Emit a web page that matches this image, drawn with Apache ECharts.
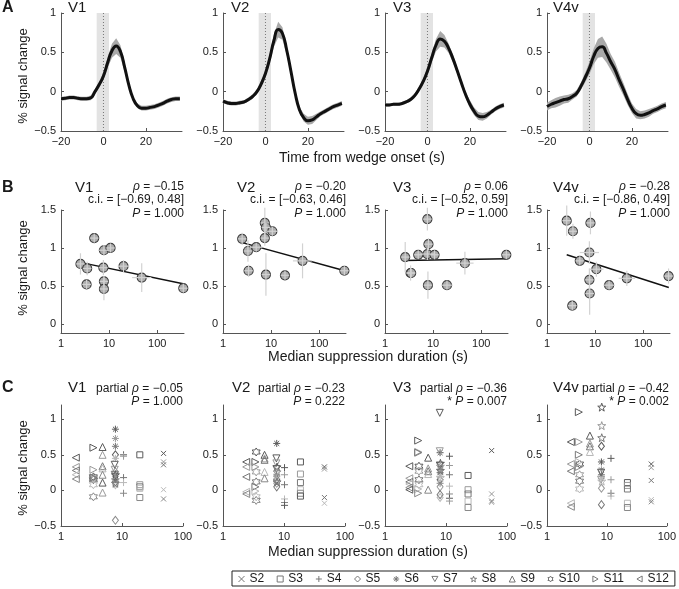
<!DOCTYPE html>
<html>
<head>
<meta charset="utf-8">
<script src="https://cdn.jsdelivr.net/npm/echarts@6/dist/echarts.min.js"></script>
<style>
  html, body { margin: 0; padding: 0; background: #fff; }
  #chart { width: 679px; height: 589px; }
</style>
</head>
<body>
<div id="chart"></div>
<script>
// ---------- data ----------
const areas = ['V1', 'V2', 'V3', 'V4v'];

// A: event-related time courses (s, % signal change)
const timeS = [-20, -18, -16, -14, -12, -10, -8, -6, -4, -2, 0, 2, 4, 6, 8, 10, 12, 14, 16, 18, 20, 22, 24, 26, 28, 30, 32, 34, 36];
const meanV1 = [-0.09, -0.085, -0.075, -0.075, -0.085, -0.09, -0.09, -0.08, 0.0, 0.09, 0.2, 0.37, 0.52, 0.58, 0.51, 0.31, 0.08, -0.09, -0.18, -0.21, -0.21, -0.2, -0.19, -0.17, -0.15, -0.12, -0.1, -0.09, -0.09];
const semV1 = [0.025, 0.025, 0.025, 0.025, 0.025, 0.025, 0.025, 0.03, 0.03, 0.04, 0.05, 0.07, 0.09, 0.1, 0.08, 0.06, 0.04, 0.03, 0.03, 0.03, 0.03, 0.03, 0.03, 0.03, 0.03, 0.03, 0.03, 0.03, 0.03];
const meanV2 = [-0.12, -0.14, -0.15, -0.15, -0.14, -0.13, -0.1, -0.06, 0.0, 0.1, 0.23, 0.42, 0.65, 0.79, 0.74, 0.53, 0.26, -0.02, -0.23, -0.33, -0.37, -0.36, -0.32, -0.28, -0.25, -0.22, -0.19, -0.17, -0.15];
const semV2 = [0.025, 0.025, 0.025, 0.025, 0.025, 0.025, 0.025, 0.03, 0.03, 0.04, 0.05, 0.06, 0.08, 0.1, 0.08, 0.06, 0.05, 0.04, 0.04, 0.05, 0.05, 0.05, 0.04, 0.03, 0.03, 0.03, 0.03, 0.03, 0.03];
const meanV3 = [-0.17, -0.17, -0.16, -0.16, -0.15, -0.13, -0.1, -0.05, 0.03, 0.13, 0.26, 0.43, 0.59, 0.67, 0.64, 0.55, 0.42, 0.27, 0.11, -0.04, -0.16, -0.25, -0.31, -0.32, -0.3, -0.26, -0.22, -0.19, -0.17];
const semV3 = [0.02, 0.02, 0.02, 0.02, 0.02, 0.02, 0.025, 0.03, 0.03, 0.04, 0.05, 0.06, 0.08, 0.1, 0.08, 0.06, 0.05, 0.04, 0.04, 0.04, 0.05, 0.05, 0.05, 0.05, 0.04, 0.03, 0.03, 0.03, 0.03];
const meanV4 = [-0.19, -0.16, -0.14, -0.12, -0.1, -0.09, -0.06, -0.02, 0.07, 0.18, 0.3, 0.45, 0.55, 0.57, 0.49, 0.38, 0.28, 0.15, 0.03, -0.1, -0.21, -0.28, -0.3, -0.29, -0.27, -0.24, -0.22, -0.19, -0.17];
const semV4 = [0.05, 0.05, 0.06, 0.06, 0.05, 0.05, 0.04, 0.04, 0.05, 0.06, 0.08, 0.1, 0.12, 0.13, 0.12, 0.1, 0.1, 0.09, 0.08, 0.07, 0.06, 0.06, 0.05, 0.05, 0.05, 0.04, 0.04, 0.04, 0.04];
const wedgeOnset = 0;
const wedgeBand = [-3.2, 2.6];

// B: per-subject points [median duration, % signal change, y error, x error (log10)]
const bV1 = [[2.54, 0.79, 0.14, 0.09], [3.5, 0.73, 0.09, 0.09], [3.4, 0.52, 0.06, 0.09], [4.9, 1.13, 0.06, 0.09],
  [7.8, 0.97, 0.07, 0.12], [10.7, 1.0, 0.06, 0.09], [7.6, 0.74, 0.1, 0.09], [7.8, 0.56, 0.07, 0.09],
  [7.8, 0.46, 0.15, 0.09], [19.9, 0.76, 0.08, 0.12], [47.6, 0.61, 0.19, 0.2], [348, 0.47, 0.06, 0.09]];
const bV2 = [[2.5, 1.12, 0.08, 0.09], [3.3, 0.96, 0.14, 0.09], [3.4, 0.7, 0.08, 0.09], [4.9, 1.01, 0.06, 0.13],
  [7.4, 1.33, 0.2, 0.09], [7.8, 1.27, 0.06, 0.09], [7.4, 1.13, 0.1, 0.09], [7.8, 0.65, 0.28, 0.09],
  [10.6, 1.22, 0.06, 0.12], [19.4, 0.64, 0.06, 0.09], [45, 0.83, 0.23, 0.2], [333, 0.7, 0.06, 0.09]];
const bV3 = [[2.63, 0.88, 0.2, 0.09], [3.4, 0.67, 0.1, 0.09], [3.5, 0.67, 0.06, 0.09], [4.9, 0.91, 0.06, 0.09],
  [7.6, 1.38, 0.15, 0.09], [8.0, 1.05, 0.08, 0.09], [7.6, 0.92, 0.08, 0.15], [7.8, 0.51, 0.18, 0.09],
  [10.7, 0.91, 0.06, 0.09], [19.4, 0.51, 0.06, 0.12], [45.8, 0.8, 0.15, 0.18], [332, 0.91, 0.06, 0.09]];
const bV4 = [[2.57, 1.36, 0.2, 0.09], [3.46, 1.22, 0.1, 0.09], [3.35, 0.24, 0.06, 0.09], [4.8, 0.83, 0.06, 0.09],
  [8.0, 1.33, 0.15, 0.09], [7.6, 0.94, 0.15, 0.2], [7.6, 0.58, 0.15, 0.09], [7.7, 0.4, 0.28, 0.09],
  [10.6, 0.72, 0.1, 0.15], [19.5, 0.51, 0.06, 0.12], [45.6, 0.6, 0.1, 0.17], [336, 0.63, 0.1, 0.09]];
// regression line end points
const fitV1 = [[2.5, 0.81], [345, 0.53]];
const fitV2 = [[2.5, 1.07], [340, 0.7]];
const fitV3 = [[2.5, 0.835], [340, 0.857]];
const fitV4 = [[2.57, 0.91], [340, 0.48]];
const statRho = ['\u22120.15', '\u22120.20', '0.06', '\u22120.28'];
const statCI = ['[\u22120.69, 0.48]', '[\u22120.63, 0.46]', '[\u22120.52, 0.59]', '[\u22120.86, 0.49]'];
const statP = ['1.000', '1.000', '1.000', '1.000'];

// C: single runs per subject
const subjects = ['S2', 'S3', 'S4', 'S5', 'S6', 'S7', 'S8', 'S9', 'S10', 'S11', 'S12'];
const durV1 = [48, 19.6, 10.6, 7.8, 7.8, 7.6, 7.8, 4.8, 3.4, 3.4, 1.75];
const durV2 = [46, 18.6, 10.2, 7.6, 7.6, 7.5, 7.7, 4.8, 3.5, 3.4, 2.4];
const durV3 = [56, 23, 11.4, 8.0, 8.0, 7.9, 8.1, 5.1, 3.6, 3.5, 2.5];
const durV4 = [55, 22, 11.7, 8.1, 8.1, 8.0, 8.2, 5.2, 3.5, 3.4, 2.5];
const cV1 = [
  [0.52, 0.4, 0.36, 0.01, -0.12],
  [0.5, 0.08, 0.05, 0.03, -0.1],
  [0.5, 0.48, 0.18, 0.11, -0.04],
  [0.5, 0.26, 0.12, 0.08, -0.42],
  [0.86, 0.73, 0.62, 0.45, 0.2, 0.15],
  [0.36, 0.29, 0.22],
  [0.22, 0.15, 0.1],
  [0.61, 0.5, 0.34, 0.31, 0.22, 0.11, -0.03],
  [0.19, 0.17, 0.15, 0.08, -0.09],
  [0.6, 0.29, 0.18],
  [0.46, 0.33, 0.28, 0.22, 0.16]
];
const cV2 = [
  [0.33, 0.3, -0.1, -0.18],
  [0.4, 0.23, 0.11, 0.01, -0.04, -0.08],
  [0.32, 0.22, 0.08, -0.12, -0.17, -0.21],
  [0.15, 0.1, 0.05],
  [0.66, 0.22, 0.2, 0.17],
  [0.45, 0.38, 0.3],
  [0.33, 0.26, 0.12],
  [0.5, 0.45, 0.43, 0.26, 0.17],
  [0.54, 0.26, 0.12, -0.09, -0.14],
  [0.4, 0.33, 0.05, -0.01],
  [0.4, 0.33, 0.19, -0.02, -0.05]
];
const cV3 = [
  [0.56, -0.05, -0.15, -0.17],
  [0.21, 0.01, -0.05, -0.15, -0.24],
  [0.48, 0.35, 0.22, 0.06, -0.05, -0.11, -0.15],
  [0.15, 0.05, -0.06, -0.1],
  [0.53, 0.3, 0.25, 0.2, 0.1],
  [1.09, 0.55, 0.35],
  [0.38, 0.34, 0.28, 0.18],
  [0.46, 0.31, 0.27, 0.23, 0.01],
  [0.34, 0.27, 0.15, 0.08],
  [0.7, 0.54, 0.53, 0.02, -0.04],
  [0.34, 0.17, 0.12, 0.09, 0.04, 0.01]
];
const cV4 = [
  [0.37, 0.32, 0.14, -0.13, -0.16],
  [0.11, 0.07, 0.02, -0.18, -0.24],
  [0.45, 0.15, -0.04, -0.08],
  [0.62, 0.03, -0.2],
  [0.4, 0.29, 0.22, 0.17],
  [0.25, 0.15],
  [1.17, 0.91, 0.74, 0.13],
  [0.77, 0.66, 0.62, 0.54],
  [0.37, 0.22, 0.13, 0.02],
  [1.1, 0.68, 0.5, 0.4, 0.33],
  [0.68, 0.37, 0.27, -0.18, -0.23]
];
const partialRho = ['\u22120.05', '\u22120.23', '\u22120.36', '\u22120.42'];
const partialP = ['1.000', '0.222', '0.007', '0.002'];
const partialSig = [false, false, true, true];

// ---------- layout / style ----------
const FONT = '"Liberation Sans", Arial, Helvetica, sans-serif';
const INK = '#1a1a1a';
const AXIS = '#555';
const colLeft = [61, 223, 385, 547];
const rowTop = [13, 210, 405];
const rowHeight = [118, 123, 121];
const rowWidth = [121, 123, 122];
const yRangeA = [-0.5, 1];

const means = [meanV1, meanV2, meanV3, meanV4];
const sems = [semV1, semV2, semV3, semV4];
const bData = [bV1, bV2, bV3, bV4];
const fits = [fitV1, fitV2, fitV3, fitV4];
const cData = [cV1, cV2, cV3, cV4];
const cDur = [durV1, durV2, durV3, durV4];

const symX = 'path://M0,0L10,10M10,0L0,10';
const symPlus = 'path://M5,0L5,10M0,5L10,5';
const symAst = 'path://M5,0L5,10M0,5L10,5M1.5,1.5L8.5,8.5M8.5,1.5L1.5,8.5';
const symStar = 'path://M5,0L6.18,3.38L9.76,3.45L6.9,5.62L7.94,9.05L5,7L2.06,9.05L3.1,5.62L0.24,3.45L3.82,3.38Z';
const symHex = 'path://M5,0L6.44,2.5L9.33,2.5L7.89,5L9.33,7.5L6.44,7.5L5,10L3.56,7.5L0.67,7.5L2.11,5L0.67,2.5L3.56,2.5Z';
const symDown = 'path://M0,0L10,0L5,8.66Z';
const symRight = 'path://M0,0L8.66,5L0,10Z';
const symLeft = 'path://M8.66,0L0,5L8.66,10Z';
const subjSymbol = [symX, 'rect', symPlus, 'diamond', symAst, symDown, symStar, 'triangle', symHex, symRight, symLeft];
const subjSize = [5, 6, 7, [6, 8], 7, 7, 8, 7, 8, 7, 7];
const shades = ['#5a5a5a', '#9a9a9a', '#777777', '#b8b8b8', '#888888'];

const fmt = v => String(v).replace('-', '\u2212');

function axisStyle(values) {
  return {
    axisLine: { show: true, onZero: false, lineStyle: { color: AXIS, width: 1 } },
    axisTick: { show: true, inside: true, length: 3, customValues: values, lineStyle: { color: AXIS } },
    axisLabel: { customValues: values, color: INK, fontSize: 11, fontFamily: FONT, margin: 5, formatter: fmt },
    splitLine: { show: false }
  };
}

const grid = [], xAxis = [], yAxis = [], series = [], graphic = [];

function addPanel(row, col, xOpt, yOpt) {
  const idx = grid.length;
  grid.push({ left: colLeft[col], top: rowTop[row], width: rowWidth[row], height: rowHeight[row] });
  xAxis.push(Object.assign({ gridIndex: idx }, xOpt));
  yAxis.push(Object.assign({ gridIndex: idx }, yOpt));
  return idx;
}

function txt(x, y, text, opt) {
  graphic.push({
    type: 'text', x: x, y: y, silent: true, rotation: (opt && opt.rotation) || 0,
    style: Object.assign({
      text: text, fill: INK, fontSize: 12, fontFamily: FONT, align: 'left', verticalAlign: 'middle',
      rich: { i: { fontStyle: 'italic', fontSize: 12, fontFamily: FONT, fill: INK } }
    }, opt && opt.style)
  });
}

// light wedge-duration strip and dotted onset line
function renderWedge(params, api) {
  const a = api.coord([api.value(0), yRangeA[1]]);
  const b = api.coord([api.value(1), yRangeA[0]]);
  const on = api.coord([api.value(2), yRangeA[1]]);
  const onB = api.coord([api.value(2), yRangeA[0]]);
  return {
    type: 'group',
    children: [
      { type: 'rect', shape: { x: a[0], y: a[1], width: b[0] - a[0], height: b[1] - a[1] }, style: { fill: '#e3e3e3' } },
      { type: 'line', shape: { x1: on[0], y1: on[1], x2: onB[0], y2: onB[1] }, style: { stroke: '#777', lineWidth: 1, lineDash: [1, 2] } }
    ]
  };
}

// shaded s.e.m. band drawn as one polygon through all rows
function makeBandRenderer(rows) {
  return function (params, api) {
    if (params.dataIndex !== 0) return null;
    const up = rows.map(r => api.coord([r[0], r[2]]));
    const lo = rows.map(r => api.coord([r[0], r[1]])).reverse();
    return { type: 'polygon', shape: { points: up.concat(lo) }, style: { fill: '#a9a9a9' } };
  };
}

function renderErr(params, api) {
  const x = api.value(0), y = api.value(1), ey = api.value(2), ex = api.value(3);
  const top = api.coord([x, y + ey]);
  const bot = api.coord([x, y - ey]);
  const lft = api.coord([x / Math.pow(10, ex), y]);
  const rgt = api.coord([x * Math.pow(10, ex), y]);
  const st = { stroke: '#d2d2d2', lineWidth: 1.2 };
  return {
    type: 'group',
    children: [
      { type: 'line', shape: { x1: top[0], y1: top[1], x2: bot[0], y2: bot[1] }, style: st },
      { type: 'line', shape: { x1: lft[0], y1: lft[1], x2: rgt[0], y2: rgt[1] }, style: st }
    ]
  };
}

// ---------- row A ----------
areas.forEach((name, c) => {
  const g = addPanel(0, c,
    Object.assign({ type: 'value', min: -20, max: 37 }, axisStyle([-20, 0, 20])),
    Object.assign({ type: 'value', min: yRangeA[0], max: yRangeA[1] }, axisStyle([-0.5, 0, 0.5, 1])));
  const m = means[c], s = sems[c];
  const rows = timeS.map((t, k) => [t, m[k] - s[k], m[k] + s[k]]);
  series.push({
    type: 'custom', xAxisIndex: g, yAxisIndex: g, silent: true, z: 1,
    renderItem: renderWedge, encode: { x: [0, 1, 2] }, data: [[wedgeBand[0], wedgeBand[1], wedgeOnset]]
  });
  series.push({
    type: 'custom', xAxisIndex: g, yAxisIndex: g, silent: true, z: 2,
    renderItem: makeBandRenderer(rows), encode: { x: 0, y: [1, 2] }, data: rows
  });
  series.push({
    type: 'line', xAxisIndex: g, yAxisIndex: g, smooth: true, symbol: 'none', silent: true, z: 3,
    lineStyle: { color: '#111', width: 3 },
    data: timeS.map((t, k) => [t, m[k]])
  });
});

// ---------- row B ----------
areas.forEach((name, c) => {
  const g = addPanel(1, c,
    Object.assign({ type: 'log', logBase: 10, min: 1, max: 360 }, axisStyle([1, 10, 100])),
    Object.assign({ type: 'value', min: -0.12, max: 1.5 }, axisStyle([0, 0.5, 1, 1.5])));
  series.push({
    type: 'line', xAxisIndex: g, yAxisIndex: g, symbol: 'none', silent: true, z: 2,
    lineStyle: { color: '#111', width: 1.5 }, data: fits[c]
  });
  series.push({
    type: 'scatter', xAxisIndex: g, yAxisIndex: g, symbol: 'circle', symbolSize: 9, silent: true, z: 3,
    itemStyle: { color: '#adadad', borderColor: '#3c3c3c', borderWidth: 1.2, opacity: 1 },
    data: bData[c].map(r => [r[0], r[1]])
  });
  series.push({
    type: 'custom', xAxisIndex: g, yAxisIndex: g, silent: true, z: 4,
    renderItem: renderErr, encode: { x: 0, y: 1 }, data: bData[c]
  });
});

// ---------- row C ----------
areas.forEach((name, c) => {
  const g = addPanel(2, c,
    Object.assign({ type: 'log', logBase: 10, min: 1, max: 100 }, axisStyle([1, 10, 100])),
    Object.assign({ type: 'value', min: -0.5, max: 1.2 }, axisStyle([-0.5, 0, 0.5, 1])));
  subjects.forEach((sName, s) => {
    series.push({
      type: 'scatter', name: sName, xAxisIndex: g, yAxisIndex: g, silent: true, z: 3,
      symbol: subjSymbol[s], symbolSize: subjSize[s],
      itemStyle: { color: 'transparent', borderColor: '#888', borderWidth: 1, opacity: 1 },
      data: cData[c][s].map((v, k) => ({ value: [cDur[c][s], v], itemStyle: { borderColor: shades[k % shades.length] } }))
    });
  });
});

// ---------- texts ----------
txt(2, 8, 'A', { style: { fontSize: 16, fontWeight: 'bold' } });
txt(2, 188, 'B', { style: { fontSize: 16, fontWeight: 'bold' } });
txt(2, 388, 'C', { style: { fontSize: 16, fontWeight: 'bold' } });

const titleA = [68, 231, 393, 553];
const titleB = [75, 237, 393, 553];
const titleC = [68, 232, 393, 553];
areas.forEach((name, c) => {
  txt(titleA[c], 8, name, { style: { fontSize: 15 } });
  txt(titleB[c], 188, name, { style: { fontSize: 15 } });
  txt(titleC[c], 388, name, { style: { fontSize: 15 } });
  const rb = colLeft[c] + 123;
  txt(rb, 187, '{i|\u03c1} = ' + statRho[c], { style: { align: 'right' } });
  txt(rb, 200, 'c.i. = ' + statCI[c], { style: { align: 'right' } });
  txt(rb, 214, '{i|P} = ' + statP[c], { style: { align: 'right' } });
  const rc = colLeft[c] + 122;
  txt(rc, 389, 'partial {i|\u03c1} = ' + partialRho[c], { style: { align: 'right' } });
  txt(rc, 402, (partialSig[c] ? '* ' : '') + '{i|P} = ' + partialP[c], { style: { align: 'right' } });
});

[76, 268, 468].forEach(y => {
  txt(23, y, '% signal change', { rotation: Math.PI / 2, style: { fontSize: 13, align: 'center' } });
});
txt(362, 158, 'Time from wedge onset (s)', { style: { fontSize: 14, align: 'center' } });
txt(368, 357, 'Median suppression duration (s)', { style: { fontSize: 14, align: 'center' } });
txt(368, 552, 'Median suppression duration (s)', { style: { fontSize: 14, align: 'center' } });

// ---------- chart ----------
const chart = echarts.init(document.getElementById('chart'), null, { renderer: 'canvas' });
chart.setOption({
  animation: false,
  backgroundColor: '#fff',
  grid: grid,
  xAxis: xAxis,
  yAxis: yAxis,
  series: series,
  graphic: graphic,
  legend: {
    data: subjects, left: 232, top: 571, width: 440, orient: 'horizontal', selectedMode: false,
    itemWidth: 6, itemHeight: 6, itemGap: 12.5, padding: [2, 6, 1, 6],
    borderColor: '#222', borderWidth: 1, borderRadius: 0,
    textStyle: { fontSize: 12, color: INK, fontFamily: FONT },
    itemStyle: { color: 'transparent', borderColor: '#777', borderWidth: 1 }
  }
});
</script>
</body>
</html>
